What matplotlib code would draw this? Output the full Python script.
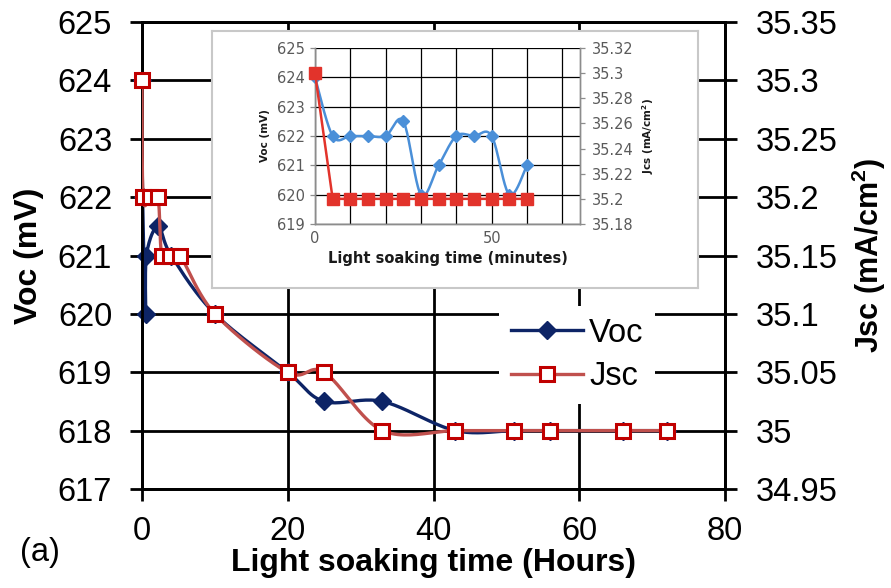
import numpy as np
import matplotlib
matplotlib.use("Agg")
import matplotlib.pyplot as plt
from matplotlib.lines import Line2D

# ---------------- data ----------------
hours_voc = [0, 0.08, 0.5, 0.6, 2.2, 4, 10, 20, 25, 33, 43, 51, 56, 66, 72]
voc_main = [624, 622, 620, 621, 621.5, 621, 620, 619, 618.5, 618.5, 618, 618, 618, 618, 618]
hours_jsc = [0, 0.15, 1.1, 2.2, 2.7, 3.8, 5.2, 10, 20, 25, 33, 43, 51, 56, 66, 72]
jsc_main = [35.3, 35.2, 35.2, 35.2, 35.15, 35.15, 35.15, 35.1, 35.05, 35.05,
            35.0, 35.0, 35.0, 35.0, 35.0, 35.0]

minutes = [0, 5, 10, 15, 20, 25, 30, 35, 40, 45, 50, 55, 60]
voc_inset = [624, 622, 622, 622, 622, 622.5, 620, 621, 622, 622, 622, 620, 621]
jsc_inset = [35.3, 35.2, 35.2, 35.2, 35.2, 35.2, 35.2, 35.2, 35.2, 35.2, 35.2, 35.2, 35.2]

main_x_ticks = [0, 20, 40, 60, 80]
main_voc_ticks = [617, 618, 619, 620, 621, 622, 623, 624, 625]
main_jsc_ticks = [34.95, 35.0, 35.05, 35.1, 35.15, 35.2, 35.25, 35.3, 35.35]
main_jsc_labels = ["34.95", "35", "35.05", "35.1", "35.15", "35.2", "35.25", "35.3", "35.35"]
inset_voc_ticks = [619, 620, 621, 622, 623, 624, 625]
inset_jsc_ticks = [35.18, 35.2, 35.22, 35.24, 35.26, 35.28, 35.3, 35.32]
inset_jsc_labels = ["35.18", "35.2", "35.22", "35.24", "35.26", "35.28", "35.3", "35.32"]
inset_x_ticks = [0, 10, 20, 30, 40, 50, 60, 70]
inset_x_labels = ["0", "", "", "", "", "50", "", ""]


def smooth(x, y, n=24):
    """Excel-like smoothed line (Catmull-Rom Bezier) through the data points."""
    P = np.column_stack([x, y]).astype(float)
    E = np.vstack([P[0], P, P[-1]])
    t = np.linspace(0, 1, n)[:, None]
    out = []
    for i in range(len(P) - 1):
        p0, p1, p2, p3 = E[i], E[i + 1], E[i + 2], E[i + 3]
        c1 = p1 + (p2 - p0) / 6.0
        c2 = p2 - (p3 - p1) / 6.0
        seg = (1 - t) ** 3 * p1 + 3 * (1 - t) ** 2 * t * c1 + 3 * (1 - t) * t ** 2 * c2 + t ** 3 * p2
        out.append(seg if i == 0 else seg[1:])
    S = np.vstack(out)
    return S[:, 0], S[:, 1]


plt.rcParams["font.family"] = ["Liberation Sans", "DejaVu Sans"]

W, H = 891, 588
fig = plt.figure(figsize=(W / 100, H / 100), dpi=100)


def fr(l, t, r, b):
    return [l / W, 1 - b / H, (r - l) / W, (b - t) / H]


NAVY = "#0D2466"
RED_LINE = "#C0504D"
RED_EDGE = "#C00000"

ax1 = fig.add_axes(fr(142, 22, 725, 489))
ax2 = ax1.twinx()

ax1.set_xlim(0, 80)
ax1.set_ylim(617, 625)
ax2.set_ylim(34.95, 35.35)

ax1.set_xticks(main_x_ticks)
ax1.set_yticks(main_voc_ticks)
ax2.set_yticks(main_jsc_ticks)
ax2.set_yticklabels(main_jsc_labels)

ax1.grid(True, color="black", lw=2.0)
ax1.set_axisbelow(True)
for ax in (ax1, ax2):
    for s in ax.spines.values():
        s.set_linewidth(2.0)
        s.set_color("black")
ax1.tick_params(axis="both", direction="out", length=8.5, width=2.0, labelsize=23.5, pad=13)
ax1.tick_params(axis="x", pad=11)
ax2.tick_params(axis="y", direction="out", length=8.5, width=2.0, labelsize=23.5, pad=14)

# Voc
sx, sy = smooth(hours_voc, voc_main)
ax1.plot(sx, sy, color=NAVY, lw=2.4, zorder=3)
ax1.plot(hours_voc, voc_main, ls="none", marker="D", ms=9.5, color=NAVY, zorder=4, clip_on=False)

# Jsc
sx2, sy2 = smooth(hours_jsc, jsc_main)
ax2.plot(sx2, sy2, color=RED_LINE, lw=2.4, zorder=3)
ax2.plot(hours_jsc, jsc_main, ls="none", marker="s", ms=10, mfc="white", mec=RED_EDGE,
         mew=2.2, zorder=4, clip_on=False)

ax1.set_xlabel("Light soaking time (Hours)", fontsize=23, fontweight="bold", labelpad=1)
ax1.set_ylabel("Voc (mV)", fontsize=23, fontweight="bold", labelpad=10)
ax2.set_ylabel("Jsc (mA/cm$^{\\mathregular{2}}$)", fontsize=22, fontweight="bold", labelpad=8)

h1 = Line2D([], [], color=NAVY, lw=2.4, marker="D", ms=9.5)
h2 = Line2D([], [], color=RED_LINE, lw=2.4, marker="s", ms=10, mfc="white", mec=RED_EDGE, mew=2.2)
leg = ax2.legend([h1, h2], ["Voc", "Jsc"], loc="upper left",
                 bbox_to_anchor=(483 / W, 1 - 290 / H), bbox_transform=fig.transFigure,
                 fontsize=23.5, frameon=True, facecolor="white", edgecolor="none",
                 framealpha=1, fancybox=False, borderpad=0.35, handlelength=2.2,
                 handletextpad=0.2, labelspacing=0.38)

fig.text(20 / W, 1 - 553 / H, "(a)", fontsize=23.5, va="center", ha="left")

# ---------------- inset ----------------
box = fig.add_axes(fr(212, 31, 698, 288))
box.set_xticks([])
box.set_yticks([])
box.set_facecolor("white")
for s in box.spines.values():
    s.set_color("#C8C8C8")
    s.set_linewidth(1.5)

INS_TXT = "#5A5A5A"
IBLUE = "#4A8FD8"
IRED = "#E2332B"
ifam = ["DejaVu Sans"]

ia = fig.add_axes(fr(315, 48, 580, 224))
ib = ia.twinx()
ia.set_xlim(0, 75)
ia.set_ylim(619, 625)
ib.set_ylim(35.18, 35.32)
ia.set_xticks(inset_x_ticks)
ia.set_xticklabels(inset_x_labels)
ia.set_yticks(inset_voc_ticks)
ib.set_yticks(inset_jsc_ticks)
ib.set_yticklabels(inset_jsc_labels)
ia.grid(True, color="black", lw=0.9)
ia.set_axisbelow(True)
for ax in (ia, ib):
    for k, s in ax.spines.items():
        s.set_color("#8C8C8C")
        s.set_linewidth(1.0)
    ax.spines["top"].set_visible(False)
ia.tick_params(axis="both", direction="out", length=3.5, width=0.9, color="#8C8C8C",
               labelsize=10.5, labelcolor=INS_TXT, pad=4)
ib.tick_params(axis="y", direction="out", length=3.5, width=0.9, color="#8C8C8C",
               labelsize=10.5, labelcolor=INS_TXT, pad=5)
ia.tick_params(axis="x", length=0, pad=5)
for lab in ia.get_xticklabels() + ia.get_yticklabels() + ib.get_yticklabels():
    lab.set_family(ifam)

mx, my = smooth(minutes, voc_inset)
ia.plot(mx, my, color=IBLUE, lw=1.8, zorder=3)
ia.plot(minutes, voc_inset, ls="none", marker="D", ms=6, color=IBLUE, zorder=4, clip_on=False)
ib.plot(minutes, jsc_inset, color=IRED, lw=1.8, zorder=3)
ib.plot(minutes, jsc_inset, ls="none", marker="s", ms=8, color=IRED, zorder=4, clip_on=False)

ia.set_xlabel("Light soaking time (minutes)", fontsize=10.5, fontweight="bold",
              family=ifam, color="#1A1A1A", labelpad=4)
ia.set_ylabel("Voc (mV)", fontsize=7.5, fontweight="bold", family=ifam, color="#1A1A1A", labelpad=5)
ib.set_ylabel("Jcs (mA/cm$^{\\mathregular{2}}$)", fontsize=7.5, fontweight="bold", family=ifam,
              color="#1A1A1A", labelpad=5)

fig.savefig("out.png", dpi=100)
